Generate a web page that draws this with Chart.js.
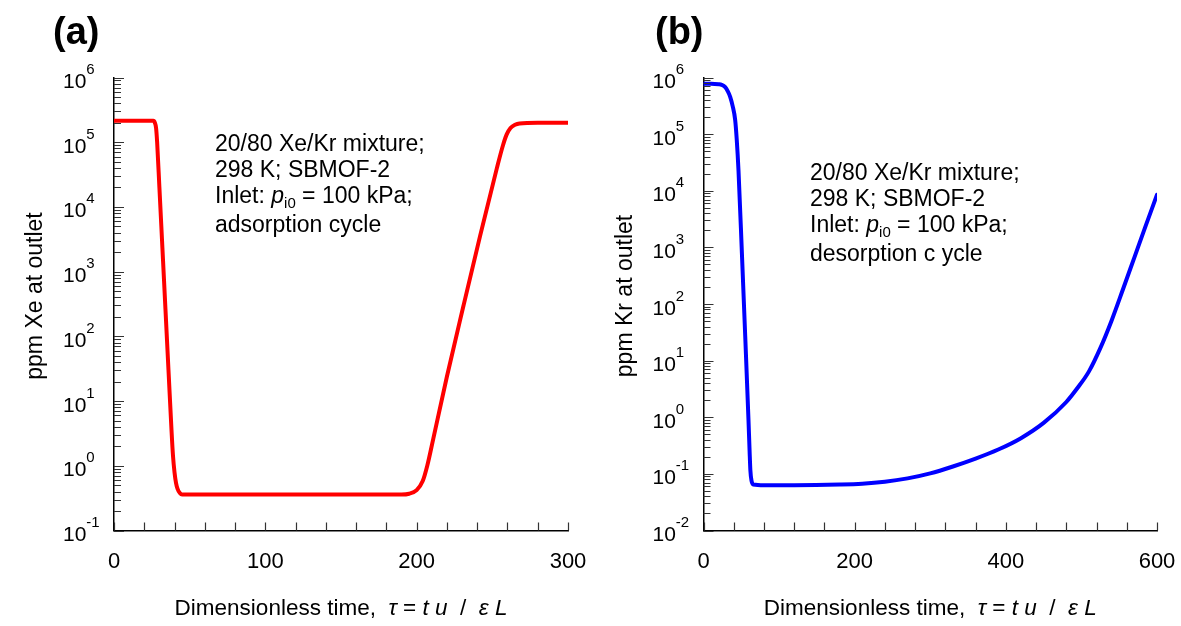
<!DOCTYPE html>
<html>
<head>
<meta charset="utf-8">
<script src="https://cdn.jsdelivr.net/npm/chart.js@4.4.1/dist/chart.umd.min.js"></script>
<style>
  html, body { margin: 0; padding: 0; background: #fff; }
  #wrap { position: relative; width: 1181px; height: 626px; }
  canvas { position: absolute; top: 0; }
</style>
</head>
<body>
<div id="wrap">
  <canvas id="chartA" width="590" height="626" style="left:0"></canvas>
  <canvas id="chartB" width="591" height="626" style="left:590px"></canvas>
</div>
<script>
// (a) adsorption cycle, Xe at outlet (ppm)
const xeTime = [0, 10, 20, 26, 27, 27.8, 28.5, 30, 32, 34, 36, 38, 39, 40, 41, 42, 43.5, 45,
  100, 150, 190, 195, 200, 204, 207, 211, 220, 231, 242, 253, 257, 259.5, 262, 265, 268, 280, 300];
const xePpm = [2.14e5, 2.14e5, 2.14e5, 2.14e5, 2.0e5, 1.66e5, 1.0e5, 2.0e4, 2290, 263, 30.2, 3.55, 1.41, 0.79, 0.54, 0.44, 0.38, 0.36,
  0.36, 0.36, 0.36, 0.37, 0.42, 0.58, 1.0, 2.63, 24.0, 302, 3630, 39800, 89100, 1.32e5, 1.66e5, 1.86e5, 1.95e5, 2.0e5, 2.0e5];

// (b) desorption cycle, Kr at outlet (ppm)
const krTime = [0, 10, 20, 24, 28.7, 32, 35.3, 38.5, 41.9, 44, 46.3, 50.8, 55.2, 59.5, 61, 62, 63.5, 66,
  80, 120, 180, 210, 240, 270, 300, 330, 360, 390, 420, 450, 480, 495, 510, 525, 540, 555, 570, 585, 600];
const krPpm = [7.76e5, 7.76e5, 7.59e5, 7.41e5, 6.76e5, 5.75e5, 4.57e5, 3.16e5, 1.78e5, 7.94e4, 2.29e4, 794, 26.9, 0.91, 0.25, 0.117, 0.076, 0.065,
  0.063, 0.063, 0.0646, 0.0668, 0.0724, 0.0832, 0.102, 0.135, 0.186, 0.269, 0.427, 0.794, 1.86, 3.31, 6.46, 16.6, 51.3, 182, 661, 2400, 8510];

const xLabelsA = [0, 100, 200, 300];
const xLabelsB = [0, 200, 400, 600];
const decadesA = [-1, 0, 1, 2, 3, 4, 5, 6];
const decadesB = [-2, -1, 0, 1, 2, 3, 4, 5, 6];

const FONT = "'Liberation Sans', Arial, sans-serif";

function drawParts(ctx, x, y, parts) {
    // parts: [text, font, dy]
    let cx = x;
    parts.forEach(p => {
        ctx.font = p[1];
        ctx.fillText(p[0], cx, y + (p[2] || 0));
        cx += ctx.measureText(p[0]).width;
    });
    return cx - x;
}

function partsWidth(ctx, parts) {
    let w = 0;
    parts.forEach(p => { ctx.font = p[1]; w += ctx.measureText(p[0]).width; });
    return w;
}

function makeDecor(cfg) {
    return {
        id: 'decor',
        afterDraw(chart) {
            const ctx = chart.ctx;
            const xs = chart.scales.x, ys = chart.scales.y;
            const area = chart.chartArea;
            ctx.save();

            // inward tick marks
            ctx.strokeStyle = '#333';
            ctx.lineWidth = 1.2;
            ctx.beginPath();
            for (let v = xs.min; v <= xs.max + 1e-9; v += cfg.xMinorStep) {
                const px = Math.round(xs.getPixelForValue(v)) + 0.5;
                ctx.moveTo(px, area.bottom);
                ctx.lineTo(px, area.bottom - 8);
            }
            cfg.decades.forEach((e, i) => {
                const py = Math.round(ys.getPixelForValue(Math.pow(10, e))) + 0.5;
                ctx.moveTo(area.left, py);
                ctx.lineTo(area.left + 10, py);
                if (i < cfg.decades.length - 1) {
                    for (let m = 2; m <= 9; m++) {
                        const q = Math.round(ys.getPixelForValue(m * Math.pow(10, e))) + 0.5;
                        ctx.moveTo(area.left, q);
                        ctx.lineTo(area.left + 7, q);
                    }
                }
            });
            ctx.stroke();

            ctx.fillStyle = '#000';
            // x tick labels
            ctx.textAlign = 'center';
            ctx.textBaseline = 'alphabetic';
            ctx.font = '22px ' + FONT;
            cfg.xLabels.forEach(v => {
                ctx.fillText(String(v), xs.getPixelForValue(v), 568);
            });

            // y tick labels 10^n
            ctx.textAlign = 'left';
            cfg.decades.forEach(e => {
                const py = ys.getPixelForValue(Math.pow(10, e));
                drawParts(ctx, area.left - 51, py + 10.5, [
                    ['10', '21px ' + FONT, 0],
                    [String(e), '15px ' + FONT, -14]
                ]);
            });

            // x title
            const n = '22.5px ' + FONT, it = 'italic 22.5px ' + FONT;
            const xt = [
                ['Dimensionless time,  ', n], ['\u03C4', it], [' = ', n], ['t', it], [' ', n],
                ['u', it], ['  /  ', n], ['\u03B5', it], [' ', n], ['L', it]
            ];
            const w = partsWidth(ctx, xt);
            drawParts(ctx, (area.left + area.right) / 2 - w / 2, 615, xt);

            // y title
            ctx.save();
            ctx.translate(36, 296);
            ctx.rotate(-Math.PI / 2);
            ctx.textAlign = 'center';
            ctx.textBaseline = 'middle';
            ctx.font = '23px ' + FONT;
            ctx.fillText(cfg.yTitle, 0, 0);
            ctx.restore();

            // annotation
            const an = '23px ' + FONT, ai = 'italic 23px ' + FONT;
            ctx.textAlign = 'left';
            ctx.textBaseline = 'alphabetic';
            const ax = cfg.noteX, b = cfg.noteY;
            drawParts(ctx, ax, b, [['20/80 Xe/Kr mixture;', an]]);
            drawParts(ctx, ax, b + 26, [['298 K; SBMOF-2', an]]);
            drawParts(ctx, ax, b + 52, [
                ['Inlet: ', an], ['p', ai], ['i0', '15px ' + FONT, 5], [' = 100 kPa;', an]
            ]);
            drawParts(ctx, ax, b + 81, [[cfg.cycle, an]]);

            // panel label
            ctx.font = 'bold 38px ' + FONT;
            ctx.fillText(cfg.panel, cfg.panelX, 44);
            ctx.restore();
        }
    };
}

function makeChart(id, times, values, color, cfg, xMax, yMin, pad) {
    const pts = times.map((t, i) => ({ x: t, y: values[i] }));
    return new Chart(document.getElementById(id), {
        type: 'line',
        data: {
            datasets: [{
                data: pts,
                borderColor: color,
                borderWidth: 4,
                pointRadius: 0,
                fill: false,
                cubicInterpolationMode: 'monotone',
                borderCapStyle: 'round',
                borderJoinStyle: 'round'
            }]
        },
        options: {
            responsive: false,
            animation: false,
            devicePixelRatio: 1,
            layout: { padding: pad },
            plugins: { legend: { display: false }, tooltip: { enabled: false } },
            scales: {
                x: {
                    type: 'linear', min: 0, max: xMax,
                    grid: { display: false, drawTicks: false },
                    ticks: { display: false },
                    border: { display: true, color: '#000', width: 1.5 }
                },
                y: {
                    type: 'logarithmic', min: yMin, max: 1e6,
                    grid: { display: false, drawTicks: false },
                    ticks: { display: false },
                    border: { display: true, color: '#000', width: 1.5 }
                }
            }
        },
        plugins: [makeDecor(cfg)]
    });
}

makeChart('chartA', xeTime, xePpm, '#ff0000', {
    xMinorStep: 20, xLabels: xLabelsA, decades: decadesA,
    yTitle: 'ppm Xe at outlet', noteX: 215, noteY: 151,
    cycle: 'adsorption cycle', panel: '(a)', panelX: 53
}, 300, 0.1, { left: 114, right: 22, top: 77.5, bottom: 95.5 });

makeChart('chartB', krTime, krPpm, '#0000ff', {
    xMinorStep: 40, xLabels: xLabelsB, decades: decadesB,
    yTitle: 'ppm Kr at outlet', noteX: 220, noteY: 180,
    cycle: 'desorption c ycle', panel: '(b)', panelX: 65
}, 600, 0.01, { left: 113.5, right: 24, top: 77.5, bottom: 95.5 });
</script>
</body>
</html>
